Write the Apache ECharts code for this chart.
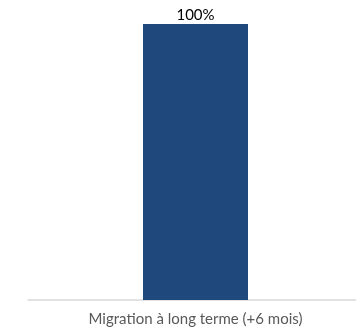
<!DOCTYPE html>
<html><head><meta charset="utf-8">
<script src="https://cdn.jsdelivr.net/npm/echarts@6/dist/echarts.min.js"></script>
<style>html,body{margin:0;padding:0;background:#fff}#c{width:356px;height:331px}</style>
</head><body><div id="c"></div>
<script>
const categories = ["Migration à long terme (+6 mois)"];
const values = [100];
const chart = echarts.init(document.getElementById('c'), null, {renderer:'canvas'});
chart.setOption({
  animation:false,
  grid:[{left:35,right:0,top:24,bottom:31,containLabel:false},
        {left:28,right:0,top:24,bottom:31,containLabel:false}],
  xAxis:[{type:'category',data:categories,gridIndex:0,
    axisLine:{show:false},
    axisTick:{show:false},
    axisLabel:{color:'#595959',fontFamily:'Lato',fontSize:15,margin:12}},
    {type:'category',data:categories,gridIndex:1,
    axisLine:{lineStyle:{color:'#d9d9d9',width:1.5}},
    axisTick:{show:false},axisLabel:{show:false}}],
  yAxis:[{type:'value',min:0,max:100,show:false,splitLine:{show:false},gridIndex:0},
         {type:'value',min:0,max:100,show:false,splitLine:{show:false},gridIndex:1}],
  series:[{type:'bar',data:values,barWidth:105,xAxisIndex:0,yAxisIndex:0,
    itemStyle:{color:'#1F497D'},
    label:{show:true,position:'top',distance:1,formatter:p=>p.value+'%',color:'#000',fontFamily:'Lato',fontSize:15}}]
});
</script></body></html>
